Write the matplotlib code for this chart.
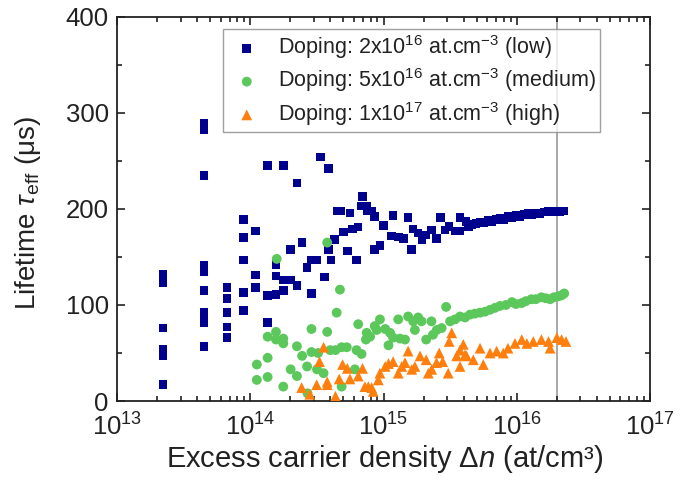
import matplotlib
matplotlib.use("Agg")
import matplotlib.pyplot as plt
from matplotlib.ticker import LogLocator, MultipleLocator, NullFormatter

plt.rcParams['font.family'] = ['Liberation Sans', 'DejaVu Sans']
plt.rcParams['mathtext.fontset'] = 'custom'
plt.rcParams['mathtext.rm'] = 'Liberation Sans'
plt.rcParams['mathtext.it'] = 'Liberation Sans:italic'
plt.rcParams['mathtext.bf'] = 'Liberation Sans:bold'

# ---- data (Δn in at/cm3, lifetime in µs) ----
low_dn = [2.22e13]*7 + [4.5e13]*10 + [6.7e13]*5 + [8.9e13]*5 + [1.1e14]*3 + [1.35e14]*3 + [1.56e14]*3 + [1.77e14]*3 + \
    [2.0e14, 2.0e14, 2.25e14, 2.25e14, 2.45e14, 2.67e14, 2.88e14, 2.88e14, 3.15e14, 3.37e14, 3.59e14, 3.85e14, 3.85e14,
     4.03e14, 4.27e14, 4.5e14, 4.77e14, 4.99e14, 5.38e14, 5.6e14, 5.86e14, 6.28e14, 6.46e14, 6.84e14, 6.96e14, 7.5e14,
     7.59e14, 8.15e14, 8.6e14, 8.6e14, 9.4e14, 1.0e15, 1.15e15, 1.18e15, 1.29e15, 1.41e15, 1.53e15, 1.63e15, 1.67e15,
     1.82e15, 1.95e15, 2.09e15, 2.29e15, 2.5e15, 2.69e15, 2.89e15, 3.11e15, 3.44e15, 3.75e15, 3.75e15, 4.16e15, 4.35e15,
     4.62e15, 4.94e15, 5.30e15, 5.68e15, 6.08e15, 6.52e15, 6.98e15, 7.48e15, 8.02e15, 8.59e15, 9.2e15, 9.86e15,
     1.06e16, 1.13e16, 1.21e16, 1.30e16, 1.39e16, 1.49e16, 1.60e16, 1.71e16, 1.84e16, 1.97e16, 2.11e16, 2.26e16]
low_tau = [132, 127, 123, 76, 54, 47, 17,
           289, 283, 235, 141, 135, 115, 92, 87, 82, 57,
           118, 107, 92, 77, 66,
           189, 170, 147, 113, 94,
           177, 131, 118,
           245, 110, 82,
           111, 130, 142,
           245, 126, 115,
           126, 158, 227, 120, 165, 139, 147, 112, 147, 254, 129, 242, 158,
           147, 168, 198, 198, 176, 156, 196, 179, 147, 181, 203, 213, 203,
           198, 198, 192, 158, 162, 183, 172, 193, 171, 169, 191, 158, 179,
           175, 168, 173, 178, 169, 191, 178, 182, 177, 191, 177, 187, 181,
           184, 185, 186, 186, 188, 187, 189, 190, 189, 192, 191, 193,
           192, 194, 195, 194, 196, 195, 197, 198, 197, 198, 197, 198]

med_dn = [1.12e14, 1.12e14, 1.35e14, 1.35e14, 1.35e14, 1.56e14, 1.56e14, 1.58e14, 1.77e14, 1.77e14, 1.77e14,
          2.01e14, 2.24e14, 2.24e14, 2.45e14, 2.67e14, 2.69e14, 2.88e14, 2.88e14, 3.17e14, 3.23e14, 3.55e14,
          3.78e14, 3.78e14, 3.98e14, 4.36e14, 4.45e14, 4.71e14, 4.85e14, 4.85e14, 5.3e14, 6.1e14, 6.28e14,
          6.46e14, 6.84e14, 7.38e14, 7.48e14, 7.93e14, 8.6e14, 8.9e14, 9.4e14, 1.03e15, 1.09e15, 1.12e15,
          1.18e15, 1.29e15, 1.33e15, 1.45e15, 1.53e15, 1.67e15, 1.72e15, 1.82e15, 1.93e15, 2.09e15, 2.29e15,
          2.35e15, 2.51e15, 2.73e15, 2.95e15, 3.16e15, 3.44e15, 3.75e15, 4.09e15, 4.46e15, 4.85e15, 5.30e15,
          5.77e15, 6.3e15, 6.86e15, 7.48e15, 8.3e15, 9.2e15, 9.86e15, 1.09e16, 1.17e16, 1.29e16, 1.39e16,
          1.53e16, 1.65e16, 1.78e16, 1.9e16, 2.05e16, 2.17e16, 2.27e16]
med_tau = [38, 22, 67, 45, 25, 72, 64, 148, 65, 60, 15,
           33, 57, 26, 47, 36, 8, 75, 51, 33, 50, 29,
           165, 72, 53, 53, 92, 116, 56, 15, 56, 33, 53,
           80, 49, 64, 71, 67, 78, 74, 85, 75, 58, 71,
           66, 85, 65, 64, 88, 83, 74, 87, 83, 64, 83,
           69, 74, 76, 98, 83, 85, 88, 87, 90, 91, 92,
           93, 95, 97, 99, 100, 103, 101, 102, 104, 106, 106,
           108, 107, 106, 108, 109, 110, 112]

high_dn = [2.43e14, 2.8e14, 3.15e14, 3.31e14, 3.55e14, 3.78e14, 3.78e14, 4.36e14, 4.65e14, 4.93e14, 5.35e14,
           5.6e14, 6.46e14, 6.96e14, 7.25e14, 7.69e14, 8.15e14, 8.37e14, 9.14e14, 9.4e14, 1.03e15, 1.09e15,
           1.18e15, 1.29e15, 1.37e15, 1.45e15, 1.53e15, 1.63e15, 1.72e15, 1.88e15, 2.09e15, 2.17e15, 2.30e15,
           2.5e15, 2.62e15, 2.78e15, 3.06e15, 3.11e15, 3.25e15, 3.54e15, 3.75e15, 3.75e15, 3.97e15, 4.09e15,
           4.2e15, 4.72e15, 5.3e15, 5.61e15, 6.3e15, 7.06e15, 7.92e15, 8.59e15, 9.7e15, 1.09e16, 1.19e16,
           1.33e16, 1.53e16, 1.73e16, 1.78e16, 2.0e16, 2.17e16, 2.34e16]
high_tau = [14, 7, 17, 41, 56, 20, 17, 5, 23, 38, 34,
            23, 26, 34, 15, 15, 14, 10, 22, 29, 36, 39,
            41, 29, 36, 40, 52, 33, 36, 47, 43, 29, 33,
            40, 50, 41, 29, 62, 71, 47, 36, 53, 59, 48,
            47, 43, 55, 38, 50, 52, 50, 55, 60, 64, 60,
            62, 64, 62, 55, 66, 64, 62]

labels = ['Doping: 2x10$^{16}$ at.cm$^{-3}$ (low)',
          'Doping: 5x10$^{16}$ at.cm$^{-3}$ (medium)',
          'Doping: 1x10$^{17}$ at.cm$^{-3}$ (high)']
marker_line = 2e16

fig = plt.figure(figsize=(6.94, 4.82), dpi=100)
ax = fig.add_axes([0.1686, 0.168, 0.768, 0.797])

ax.axvline(marker_line, color='#9a9a9a', lw=1.2, zorder=1)
ax.scatter(low_dn, low_tau, marker='s', s=38, color='#00008f', edgecolors='none', label=labels[0], zorder=3)
ax.scatter(med_dn, med_tau, marker='o', s=50, color='#5cc85c', edgecolors='none', label=labels[1], zorder=3)
ax.scatter(high_dn, high_tau, marker='^', s=60, color='#ff7f0e', edgecolors='none', label=labels[2], zorder=3)

ax.set_xscale('log')
ax.set_xlim(1e13, 1e17)
ax.set_ylim(0, 400)
ax.yaxis.set_major_locator(MultipleLocator(100))
ax.yaxis.set_minor_locator(MultipleLocator(50))
ax.xaxis.set_major_locator(LogLocator(base=10, numticks=10))
ax.xaxis.set_minor_locator(LogLocator(base=10, subs=range(2, 10), numticks=50))
ax.xaxis.set_minor_formatter(NullFormatter())

ax.tick_params(which='both', direction='in', top=True, right=True, width=1.2, colors='#222222')
ax.tick_params(which='major', length=6, labelsize=18.5)
ax.tick_params(axis='x', which='major', pad=9)
ax.tick_params(axis='y', which='major', pad=6)
ax.tick_params(which='minor', length=3.5)
for sp in ax.spines.values():
    sp.set_linewidth(1.3)
    sp.set_color('#222222')

ax.set_xlabel(r'Excess carrier density $\Delta n$ (at/cm³)', fontsize=21, color='#222222')
ax.set_ylabel(r'Lifetime $\tau_{\mathrm{eff}}$ (μs)', fontsize=20, color='#222222')
ax.xaxis.set_label_coords(0.503, -0.108)
ax.yaxis.set_label_coords(-0.139, 0.49)

leg = ax.legend(loc='upper left', bbox_to_anchor=(0.199, 0.969), fontsize=15.5, frameon=True, fancybox=False,
                edgecolor='#888888', borderpad=0.2, handletextpad=0.55, labelspacing=0.25, handlelength=1.8,
                scatterpoints=1, borderaxespad=0)
leg.get_frame().set_linewidth(1.0)
for t in leg.get_texts():
    t.set_color('#222222')

fig.savefig('out.png', dpi=100)
